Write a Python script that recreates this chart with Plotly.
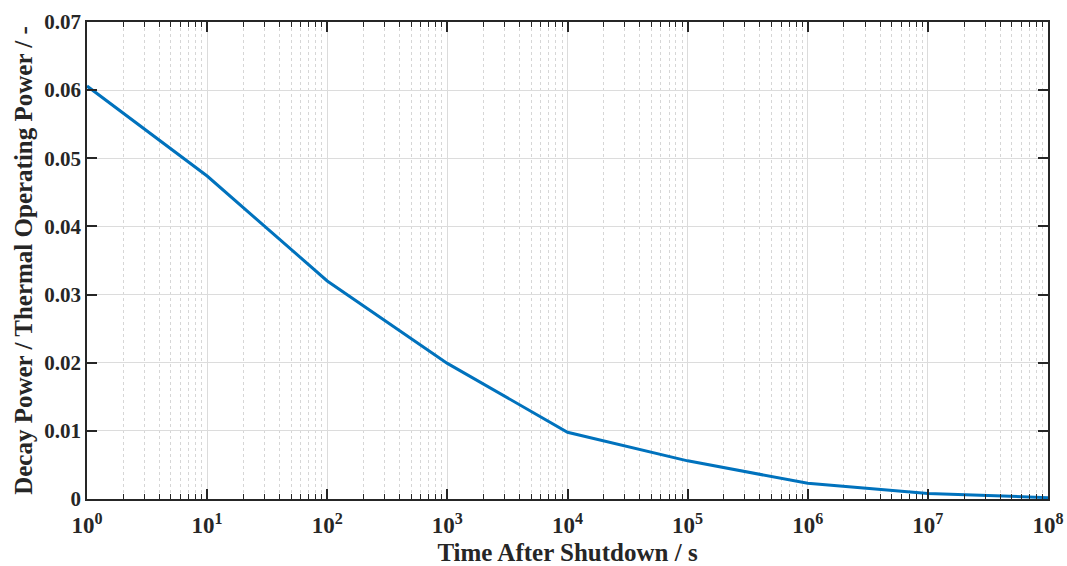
import plotly.graph_objects as go

time_s = [1, 10, 100, 1e3, 1e4, 1e5, 1e6, 1e7, 1e8]
decay_ratio = [0.0606, 0.0474, 0.0320, 0.0199, 0.0098, 0.0056, 0.0023, 0.0008, 0.0002]

x_tickvals = [1, 10, 100, 1e3, 1e4, 1e5, 1e6, 1e7, 1e8]
x_ticktext = ["<b>10<sup>%d</sup></b>" % i for i in range(9)]
y_tickvals = [0, 0.01, 0.02, 0.03, 0.04, 0.05, 0.06, 0.07]
y_ticktext = ["<b>%s</b>" % s for s in ["0", "0.01", "0.02", "0.03", "0.04", "0.05", "0.06", "0.07"]]

FONT = "Liberation Serif"
INK = "#262626"

fig = go.Figure()
fig.add_trace(go.Scatter(
    x=time_s, y=decay_ratio, mode="lines",
    line=dict(color="#0072BD", width=3),
    showlegend=False,
))

axis_common = dict(
    showline=True, linecolor=INK, linewidth=1.5, mirror="allticks",
    ticks="inside", tickcolor=INK, tickwidth=1.5,
    showgrid=True, gridcolor="#DCDCDC", gridwidth=1,
    zeroline=False, automargin=False,
)

fig.update_xaxes(
    type="log", range=[0, 8],
    tickvals=x_tickvals, ticktext=x_ticktext, ticklen=10,
    tickfont=dict(family=FONT, size=23, color=INK),
    ticklabelstandoff=5,
    title=dict(text="<b>Time After Shutdown / s</b>", font=dict(family=FONT, size=25, color=INK), standoff=8),
    minor=dict(ticks="inside", ticklen=5, tickcolor=INK, tickwidth=1.2,
               showgrid=True, gridcolor="#D6D6D6", griddash="dot", gridwidth=1, dtick="D1"),
    **axis_common,
)
fig.update_yaxes(
    range=[0, 0.07], tickvals=y_tickvals, ticktext=y_ticktext, ticklen=10,
    tickfont=dict(family=FONT, size=21, color=INK),
    title=dict(text="<b>Decay Power / Thermal Operating Power / -</b>", font=dict(family=FONT, size=25, color=INK), standoff=5),
    **axis_common,
)

fig.update_layout(
    width=1067, height=566,
    margin=dict(l=87, r=19, t=22, b=67),
    paper_bgcolor="white", plot_bgcolor="white",
    font=dict(family=FONT, color=INK),
)

fig.write_html("out.html")
